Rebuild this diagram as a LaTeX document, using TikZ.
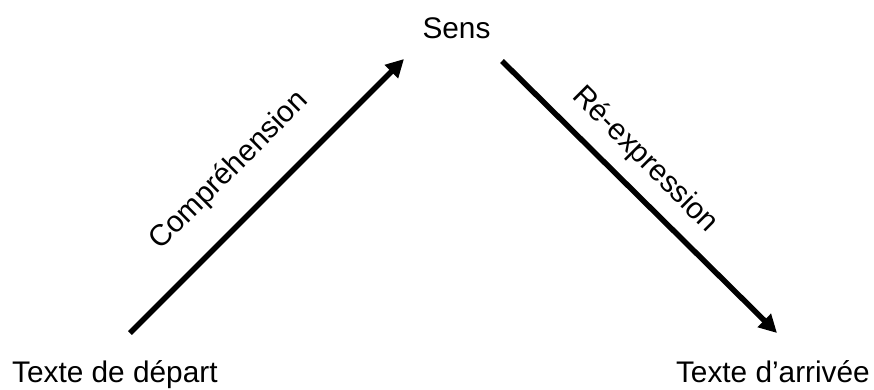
\documentclass[tikz,border=0pt]{standalone}
\usepackage{fontspec}
\setmainfont{Liberation Sans}
\usetikzlibrary{arrows.meta}
\begin{document}
\begin{tikzpicture}[x=1pt,y=-1pt,
  lbl/.style={inner sep=0pt,font=\fontsize{29.8}{35}\selectfont},
  conn/.style={line width=5.5pt,-{Triangle[length=18pt,width=18pt]}}]
\useasboundingbox (0,0) rectangle (874,390);
\node[lbl,anchor=base] (sens) at (456.5,39) {Sens};
\node[lbl,anchor=base west] (dep) at (12,382) {Texte de départ};
\node[lbl,anchor=base east] (arr) at (870,382) {Texte d’arrivée};
\coordinate (a1s) at (130,333);
\coordinate (a1e) at (404,59);
\coordinate (a2s) at (502,61);
\coordinate (a2e) at (777,333);
\draw[conn] (a1s) -- (a1e);
\draw[conn] (a2s) -- (a2e);
\node[lbl,rotate=45] (comp) at (229.5,171) {Compréhension};
\node[lbl,rotate=-45] (reex) at (645,160) {Ré-expression};
\end{tikzpicture}
\end{document}
